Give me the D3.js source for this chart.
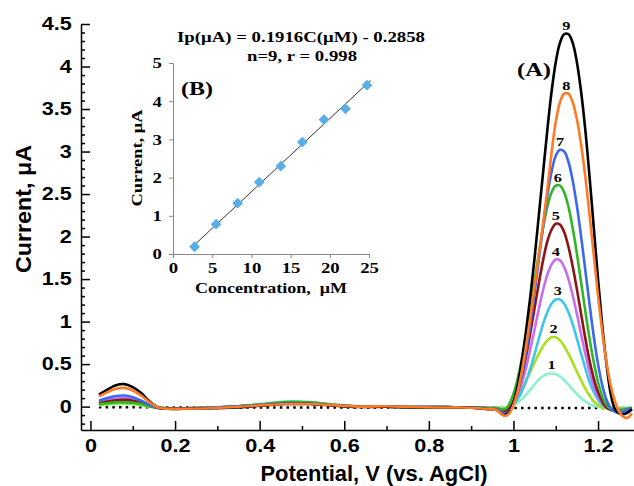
<!DOCTYPE html>
<html>
<head>
<meta charset="utf-8">
<script src="https://cdn.jsdelivr.net/npm/d3@7"></script>
<style>
  body { margin: 0; background: #fff; }
  svg { display: block; }
</style>
</head>
<body>
<svg id="chart" width="634" height="486"></svg>
<script>
// Potential grid (V vs. AgCl) shared by all voltammograms
const potential = [
  0.02,0.04,0.06,0.08,0.10,0.12,0.14,0.16,0.18,0.22,0.28,0.34,0.40,0.46,0.52,0.58,0.64,0.70,0.76,0.82,0.88,0.92,0.94,
  0.96,0.97,0.98,0.99,1.00,1.01,1.02,1.03,1.04,1.05,1.06,1.07,1.08,1.09,1.10,1.11,1.12,1.13,1.14,1.15,1.16,1.17,1.18,1.19,1.20,1.21,1.22,1.23,1.24,1.25,1.26,1.27,1.28
];

// Current (µA) for each concentration, runs 1..9
const run1 = [0.015,0.025,0.03,0.03,0.025,0.015,0.0,-0.01,-0.015,-0.02,-0.015,0.0,0.03,0.06,0.055,0.025,0.005,0.0,-0.005,-0.005,-0.01,-0.01,-0.01,
  -0.01,-0.01,-0.01,0.0, 0.02,0.05,0.09,0.14,0.20,0.26,0.32,0.36,0.385,0.39, 0.38,0.355,0.31,0.26,0.20,0.15,0.10,0.06,0.03,0.01, 0.0,-0.01,-0.01,-0.01,-0.01,-0.01,-0.01,-0.01,0.0];
const run2 = [0.02,0.03,0.04,0.04,0.035,0.02,0.0,-0.01,-0.02,-0.02,-0.015,0.0,0.025,0.05,0.045,0.02,0.0,0.0,-0.005,-0.005,-0.01,-0.015,-0.015,
  -0.01,-0.02,-0.02,0.0, 0.06,0.13,0.21,0.31,0.41,0.52,0.62,0.71,0.78,0.815, 0.815,0.78,0.71,0.62,0.52,0.41,0.31,0.21,0.13,0.06, 0.02,-0.01,-0.02,-0.02,-0.02,-0.02,-0.02,-0.02,-0.01];
const run3 = [0.03,0.045,0.055,0.06,0.05,0.03,0.005,-0.01,-0.02,-0.02,-0.015,0.0,0.02,0.045,0.04,0.015,0.0,0.0,-0.005,-0.005,-0.01,-0.015,-0.02,
  -0.02,-0.03,-0.03,-0.01, 0.03,0.09,0.18,0.30,0.45,0.62,0.80,0.97,1.11,1.21, 1.26,1.26,1.21,1.11,0.97,0.80,0.62,0.45,0.29,0.17, 0.08,0.02,-0.01,-0.03,-0.03,-0.03,-0.03,-0.02,-0.02];
const run4 = [0.05,0.08,0.095,0.10,0.085,0.05,0.015,-0.015,-0.02,-0.02,-0.015,0.0,0.02,0.04,0.035,0.015,0.0,0.0,-0.005,-0.005,-0.01,-0.015,-0.02,
  -0.02,-0.03,-0.04,-0.02, 0.04,0.14,0.28,0.46,0.68,0.91,1.15,1.37,1.55,1.67, 1.73,1.72,1.64,1.50,1.31,1.09,0.85,0.62,0.41,0.24, 0.12,0.04,-0.01,-0.03,-0.04,-0.04,-0.03,-0.03,-0.02];
const run5 = [0.04,0.06,0.075,0.08,0.07,0.04,0.01,-0.015,-0.02,-0.02,-0.015,0.0,0.02,0.04,0.035,0.015,0.0,0.0,-0.005,-0.005,-0.01,-0.015,-0.02,
  -0.02,-0.04,-0.05,-0.02, 0.06,0.19,0.37,0.60,0.87,1.16,1.45,1.72,1.94,2.08, 2.15,2.14,2.05,1.88,1.65,1.38,1.09,0.80,0.54,0.33, 0.17,0.06,-0.01,-0.04,-0.05,-0.05,-0.04,-0.03,-0.02];
const run6 = [0.03,0.04,0.05,0.05,0.045,0.03,0.005,-0.01,-0.02,-0.02,-0.015,0.0,0.025,0.055,0.05,0.02,0.0,0.0,-0.005,-0.005,-0.01,-0.01,-0.015,
  -0.02,-0.03,-0.03,0.03, 0.15,0.33,0.57,0.85,1.16,1.48,1.80,2.10,2.35,2.52, 2.60,2.60,2.52,2.35,2.10,1.80,1.46,1.12,0.80,0.52, 0.29,0.12,0.02,-0.03,-0.05,-0.05,-0.04,-0.03,-0.02];
const run7 = [0.07,0.10,0.125,0.13,0.11,0.07,0.02,-0.015,-0.025,-0.02,-0.015,0.0,0.02,0.04,0.035,0.015,0.0,0.0,-0.005,-0.005,-0.01,-0.015,-0.02,
  -0.03,-0.06,-0.08,-0.05, 0.03,0.17,0.38,0.65,0.97,1.34,1.73,2.12,2.48,2.76, 2.95,3.02,3.00,2.88,2.66,2.36,2.00,1.60,1.20,0.82, 0.50,0.25,0.08,-0.02,-0.06,-0.07,-0.06,-0.04,-0.02];
const run8 = [0.12,0.17,0.21,0.22,0.19,0.13,0.05,-0.01,-0.025,-0.025,-0.02,-0.005,0.015,0.03,0.03,0.015,0.0,0.005,-0.005,-0.01,-0.01,-0.02,-0.025,
  -0.04,-0.08,-0.11,-0.08, 0.02,0.18,0.42,0.72,1.05,1.42,1.78,2.15,2.55,2.98, 3.35,3.58,3.68,3.68,3.58,3.38,3.08,2.70,2.25,1.78, 1.30,0.88,0.52,0.25,0.06,-0.06,-0.12,-0.13,-0.08];
const run9 = [0.14,0.20,0.25,0.265,0.23,0.16,0.06,-0.01,-0.025,-0.025,-0.02,-0.01,0.01,0.03,0.03,0.01,-0.005,0.0,-0.01,-0.01,-0.01,-0.02,-0.03,
  -0.04,-0.08,-0.10,-0.06, 0.05,0.25,0.55,0.90,1.30,1.75,2.25,2.75,3.25,3.70, 4.05,4.28,4.38,4.38,4.28,4.05,3.70,3.25,2.70,2.10, 1.50,0.95,0.50,0.15,-0.03,-0.08,-0.09,-0.07,-0.03];

// Blank (supporting electrolyte only), drawn dotted
const blankPotential = [0.02, 0.40, 0.80, 1.00, 1.28];
const blankCurrent   = [-0.008, -0.01, -0.012, -0.015, -0.015];

const runLabels = ["1","2","3","4","5","6","7","8","9"];
const runColors = ["#8cf0cc","#a8e01c","#3ec6ea","#c86cf0","#8b1414","#30b526","#3a68f0","#ff7a26","#000000"];

// Main axes ticks
const xTicks = [0, 0.2, 0.4, 0.6, 0.8, 1, 1.2];
const yTicks = [0, 0.5, 1, 1.5, 2, 2.5, 3, 3.5, 4, 4.5];

// Calibration inset (B)
const conc   = [2.75, 5.5, 8.25, 11, 13.75, 16.5, 19.25, 22, 24.75];
const ipPeak = [0.19, 0.78, 1.33, 1.88, 2.30, 2.93, 3.52, 3.80, 4.42];
const fitSlope = 0.1916, fitIntercept = -0.2858;
const fitRange = [2.5, 25.2];
const concTicks = [0, 5, 10, 15, 20, 25];
const ipTicks = [0, 1, 2, 3, 4, 5];

const sans = "'Liberation Sans', Arial, sans-serif";
const serif = "'Liberation Serif', 'Times New Roman', serif";

const svg = d3.select("#chart");

// ---------- main voltammogram panel ----------
const x = d3.scaleLinear().domain([-0.0224, 1.285]).range([81, 634]);
const y = d3.scaleLinear().domain([-0.275, 4.5]).range([430, 24]);

const yMinor = d3.range(-2, 45).map(v => v / 10).filter(v => Math.round(v * 10) % 5 !== 0);
const xMinor = [0.1, 0.3, 0.5, 0.7, 0.9, 1.1];

function styleAxis(g) {
  g.selectAll("path, line").attr("stroke", "#000").attr("stroke-width", 1.5);
}

const yMinorG = svg.append("g").attr("transform", "translate(81,0)")
  .call(d3.axisLeft(y).tickValues(yMinor).tickSize(-4).tickFormat(""));
yMinorG.select(".domain").remove();
styleAxis(yMinorG);

const yAxisG = svg.append("g").attr("transform", "translate(81,0)")
  .call(d3.axisLeft(y).tickValues(yTicks).tickSizeInner(-9).tickSizeOuter(0).tickPadding(7.75).tickFormat(d3.format("")));
styleAxis(yAxisG);
yAxisG.selectAll(".tick text")
  .attr("font-family", sans).attr("font-weight", "bold").attr("font-size", 18).attr("fill", "#000")
  .attr("transform", "scale(1.2,1)");

const xMinorG = svg.append("g").attr("transform", "translate(0,430)")
  .call(d3.axisBottom(x).tickValues(xMinor).tickSize(-4).tickFormat(""));
xMinorG.select(".domain").remove();
styleAxis(xMinorG);

const xAxisG = svg.append("g").attr("transform", "translate(0,430)")
  .call(d3.axisBottom(x).tickValues(xTicks).tickSizeInner(-9).tickSizeOuter(0).tickPadding(9).tickFormat(d3.format("")));
styleAxis(xAxisG);
xAxisG.selectAll(".tick text")
  .attr("font-family", sans).attr("font-weight", "bold").attr("font-size", 18).attr("fill", "#000")
  .attr("transform", "scale(1.2,1)");

// axis titles
svg.append("text")
  .attr("transform", "translate(31,209) rotate(-90)")
  .attr("text-anchor", "middle")
  .attr("font-family", sans).attr("font-weight", "bold").attr("font-size", 22)
  .attr("textLength", 128).attr("lengthAdjust", "spacingAndGlyphs")
  .text("Current, μA");

svg.append("text")
  .attr("x", 374).attr("y", 481)
  .attr("text-anchor", "middle")
  .attr("font-family", sans).attr("font-weight", "bold").attr("font-size", 22)
  .attr("textLength", 227).attr("lengthAdjust", "spacingAndGlyphs")
  .text("Potential, V (vs. AgCl)");

// blank
const blankLine = d3.line().x(d => x(d[0])).y(d => y(d[1]));
svg.append("path")
  .datum(blankPotential.map((p, i) => [p, blankCurrent[i]]))
  .attr("d", blankLine)
  .attr("fill", "none").attr("stroke", "#000").attr("stroke-width", 2.5)
  .attr("stroke-dasharray", "2.5 4.2");

// voltammograms
const runs = [run1, run2, run3, run4, run5, run6, run7, run8, run9];
const curve = d3.line()
  .x(d => x(d[0])).y(d => y(d[1]))
  .curve(d3.curveCatmullRom.alpha(0.5));
const drawOrder = [0, 1, 2, 3, 4, 5, 6, 8, 7];
drawOrder.forEach(i => {
  svg.append("path")
    .datum(potential.map((p, k) => [p, runs[i][k]]))
    .attr("d", curve)
    .attr("fill", "none")
    .attr("stroke", runColors[i])
    .attr("stroke-width", 2.6)
    .attr("stroke-linejoin", "round");
});

// run numbers above each peak
runs.forEach((r, i) => {
  const m = d3.max(r);
  const top = potential.filter((p, k) => r[k] >= m - 0.002);
  const px = d3.mean(top);
  svg.append("text")
    .attr("transform", `translate(${x(px)},${y(m) - 4}) scale(1.25,1)`)
    .attr("text-anchor", "middle")
    .attr("font-family", serif).attr("font-weight", "bold").attr("font-size", 13)
    .attr("fill", "#000")
    .text(runLabels[i]);
});

svg.append("text")
  .attr("x", 517).attr("y", 76)
  .attr("font-family", serif).attr("font-weight", "bold").attr("font-size", 18)
  .attr("textLength", 34).attr("lengthAdjust", "spacingAndGlyphs")
  .text("(A)");

// ---------- inset (B): calibration plot ----------
const xi = d3.scaleLinear().domain([0, 25]).range([173, 369]);
const yi = d3.scaleLinear().domain([0, 5]).range([254, 63]);
const insetGrey = "#8a8a8a";

const yiG = svg.append("g").attr("transform", "translate(173,0)")
  .call(d3.axisLeft(yi).tickValues(ipTicks).tickSize(4).tickPadding(5).tickFormat(d3.format("d")));
const xiG = svg.append("g").attr("transform", "translate(0,254)")
  .call(d3.axisBottom(xi).tickValues(concTicks).tickSize(4).tickPadding(4.5).tickFormat(d3.format("d")));
[yiG, xiG].forEach(g => {
  g.selectAll("path, line").attr("stroke", insetGrey).attr("stroke-width", 1);
  g.selectAll(".tick text")
    .attr("font-family", serif).attr("font-weight", "bold").attr("font-size", 15).attr("fill", "#000")
    .attr("transform", "scale(1.25,1)");
});

svg.append("text")
  .attr("transform", "translate(141.5,158) rotate(-90)")
  .attr("text-anchor", "middle")
  .attr("font-family", serif).attr("font-weight", "bold").attr("font-size", 15)
  .attr("textLength", 97).attr("lengthAdjust", "spacingAndGlyphs")
  .text("Current, μA");

svg.append("text")
  .attr("x", 271).attr("y", 293)
  .attr("text-anchor", "middle")
  .attr("font-family", serif).attr("font-weight", "bold").attr("font-size", 15)
  .attr("textLength", 152).attr("lengthAdjust", "spacingAndGlyphs")
  .text("Concentration,\u00a0 μM");

// least-squares line from the stated equation
svg.append("path")
  .datum(fitRange.map(c => [c, fitSlope * c + fitIntercept]))
  .attr("d", d3.line().x(d => xi(d[0])).y(d => yi(d[1])))
  .attr("stroke", "#333").attr("stroke-width", 1).attr("fill", "none");

svg.append("g").selectAll("path")
  .data(conc.map((c, i) => [c, ipPeak[i]]))
  .join("path")
  .attr("transform", d => `translate(${xi(d[0])},${yi(d[1])}) rotate(45)`)
  .attr("d", d3.symbol(d3.symbolSquare, 58))
  .attr("fill", "#5aaee8");

svg.append("text")
  .attr("x", 181).attr("y", 95)
  .attr("font-family", serif).attr("font-weight", "bold").attr("font-size", 19)
  .attr("textLength", 32).attr("lengthAdjust", "spacingAndGlyphs")
  .text("(B)");

svg.append("text")
  .attr("x", 177).attr("y", 42)
  .attr("font-family", serif).attr("font-weight", "bold").attr("font-size", 15)
  .attr("textLength", 248).attr("lengthAdjust", "spacingAndGlyphs")
  .text("Ip(μA) = 0.1916C(μM) - 0.2858");

svg.append("text")
  .attr("x", 302).attr("y", 61)
  .attr("text-anchor", "middle")
  .attr("font-family", serif).attr("font-weight", "bold").attr("font-size", 15)
  .attr("textLength", 110).attr("lengthAdjust", "spacingAndGlyphs")
  .text("n=9, r = 0.998");
</script>
</body>
</html>
